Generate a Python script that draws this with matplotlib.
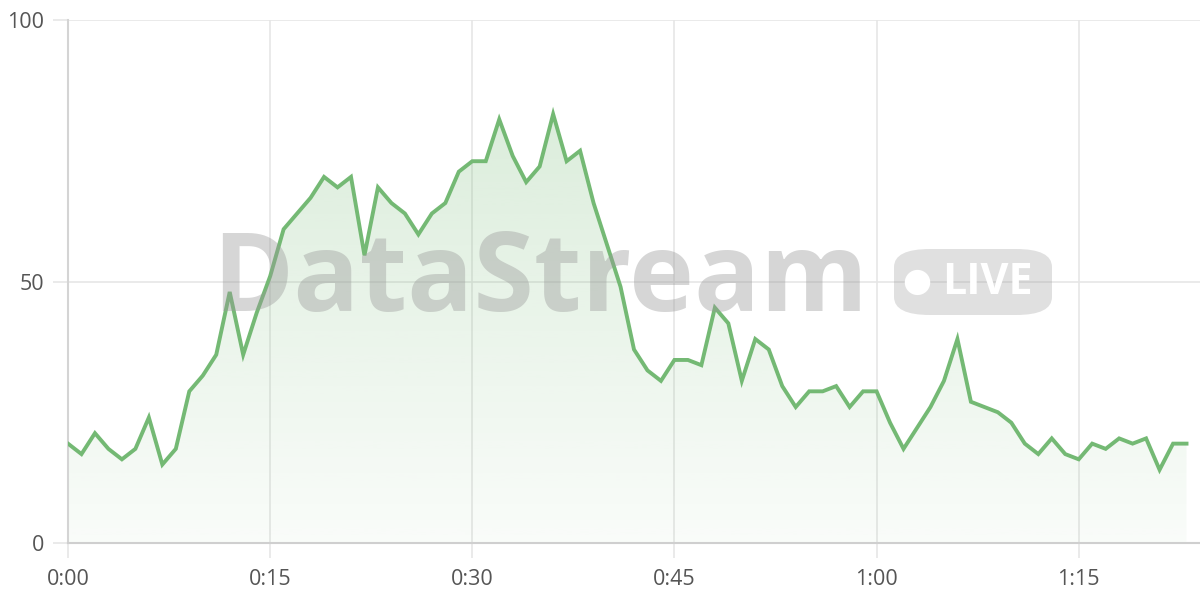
import matplotlib
matplotlib.use("Agg")
import matplotlib.pyplot as plt
from matplotlib.patches import FancyBboxPatch
import numpy as np

# one value per minute
values = [19, 17, 21, 18, 16, 18, 24, 15, 18, 29,
          32, 36, 48, 36, 44, 51, 60, 63, 66, 70,
          68, 70, 55, 68, 65, 63, 59, 63, 65, 71,
          73, 73, 81, 74, 69, 72, 82, 73, 75, 65,
          57, 49, 37, 33, 31, 35, 35, 34, 45, 42,
          31, 39, 37, 30, 26, 29, 29, 30, 26, 29,
          29, 23, 18, 22, 26, 31, 39, 27, 26, 25,
          23, 19, 17, 20, 17, 16, 19, 18, 20, 19,
          20, 14, 19, 19]
minutes = list(range(len(values)))
x_ticks = [0, 15, 30, 45, 60, 75]
x_labels = ["0:00", "0:15", "0:30", "0:45", "1:00", "1:15"]
y_ticks = [0, 50, 100]

line_col = "#74b974"
grid_col = "#e6e6e6"
text_col = "#555555"

plt.rcParams['font.family'] = ['Open Sans', 'DejaVu Sans']

fig = plt.figure(figsize=(12, 6), dpi=100)
ax = fig.add_axes([68 / 1200, 57 / 600, 1 - 68 / 1200, 523 / 600])
ax.set_xlim(0, 84)
ax.set_ylim(0, 100)

# gradient fill under the line
grad = np.linspace(0.04, 0.30, 256).reshape(-1, 1)
rgba = np.zeros((256, 1, 4))
rgba[..., 0] = 0x74 / 255
rgba[..., 1] = 0xb9 / 255
rgba[..., 2] = 0x74 / 255
rgba[..., 3] = grad
img = ax.imshow(rgba, extent=[0, 84, 0, 100], origin="lower", aspect="auto", zorder=1)
poly = ax.fill_between(minutes, values, 0, color="none")
clip = poly.get_paths()[0]
img.set_clip_path(clip, transform=ax.transData)

ax.plot(minutes, values, color=line_col, lw=2.8, zorder=3, solid_joinstyle="miter")

ax.set_xticks(x_ticks)
ax.set_xticklabels(x_labels)
ax.set_yticks(y_ticks)
ax.grid(True, color=grid_col, lw=1.2, zorder=0)
ax.set_axisbelow(True)
for s in ["top", "right"]:
    ax.spines[s].set_visible(False)
ax.spines["left"].set_color("#d4d4d4")
ax.spines["left"].set_linewidth(1.5)
ax.spines["bottom"].set_color("#cfcfcf")
ax.spines["bottom"].set_linewidth(1.5)
ax.tick_params(axis="both", colors=grid_col, length=11, width=1.2,
               labelcolor=text_col, labelsize=15.5)
ax.tick_params(axis="y", pad=6)
ax.tick_params(axis="x", pad=8)

# watermark
fig.text(540 / 1200, 1 - 283 / 600, "DataStream", fontsize=79, fontweight="bold",
         color="#999999", alpha=0.4, ha="center", va="center", zorder=10)
badge = FancyBboxPatch((894 / 1200, 1 - 315 / 600), 158 / 1200, 66 / 600,
                       boxstyle="round,pad=0,rounding_size=0.03",
                       transform=fig.transFigure, facecolor="#999999", alpha=0.3,
                       edgecolor="none", zorder=10)
fig.patches.append(badge)
fig.text(917 / 1200, 1 - 282 / 600, "\u25cf", fontsize=24, color="white",
         ha="center", va="center", zorder=11)
fig.text(987 / 1200, 1 - 283 / 600, "LIVE", fontsize=31, fontweight="bold",
         color="white", ha="center", va="center", zorder=11)

fig.savefig("out.png", dpi=100)
